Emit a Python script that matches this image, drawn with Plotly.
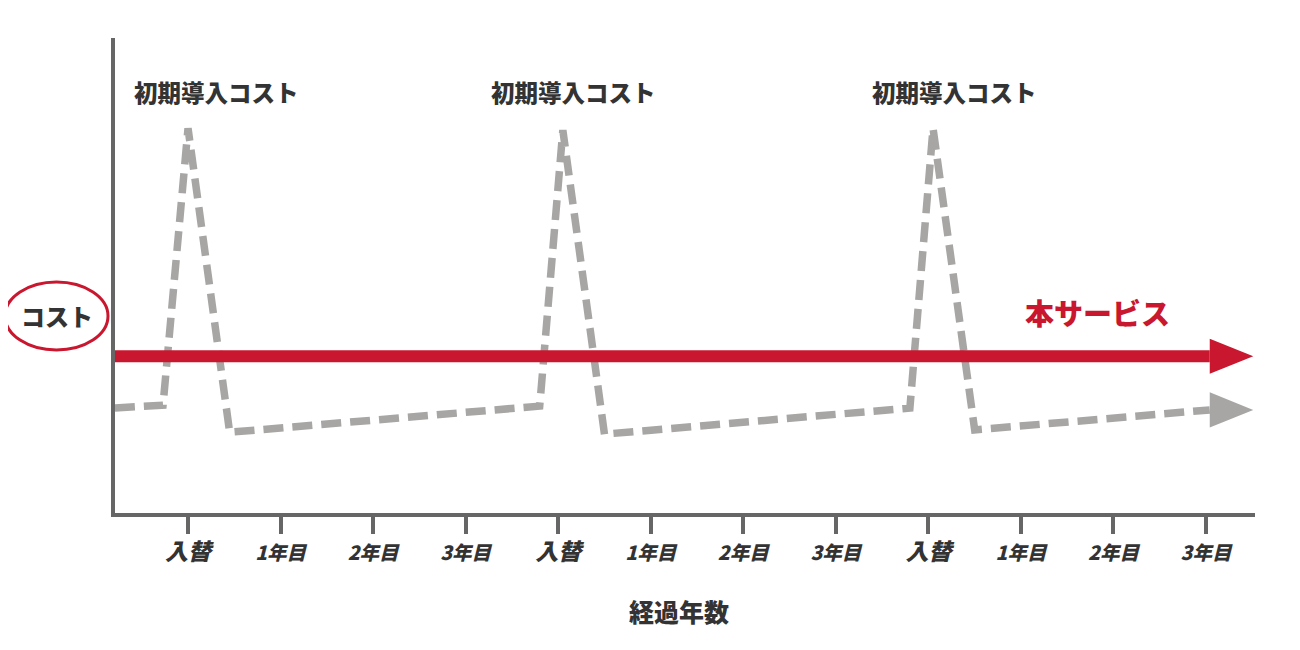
import plotly.graph_objects as go

# ---------------- data ----------------
tick_positions = [0, 1, 2, 3, 4, 5, 6, 7, 8, 9, 10, 11]
tick_labels = ["入替", "1年目", "2年目", "3年目", "入替", "1年目", "2年目", "3年目",
               "入替", "1年目", "2年目", "3年目"]

# conventional system cost (grey dashed)
legacy_x = [-0.79, -0.27, 0.0, 0.45, 3.80, 4.05, 4.50, 7.80, 8.05, 8.50, 11.04]
legacy_y = [22.1, 22.7, 81.0, 17.0, 22.5, 80.6, 16.6, 22.1, 81.0, 17.5, 21.7]

# this service cost (red, flat)
service_x = [-0.79, 11.04]
service_y = [33.0, 33.0]

peak_label_x = [0.31, 4.17, 8.28]
peak_label_y = [88.6, 88.6, 88.6]
peak_label = "初期導入コスト"

service_label = "本サービス"
service_label_x = 9.83
service_label_y = 42.3

x_range = [-0.789, 11.529]
y_range = [0, 100]

# ---------------- styles ----------------
RED = "#c8172e"
GREY = "#a7a6a5"
AXIS = "#666666"
TEXT = "#333333"
FONT = "Noto Sans CJK JP"
OFF = 8  # page body offset

ARROW_LEN = 0.47   # x units
ARROW_HALF = 3.7   # y units

fig = go.Figure()

fig.add_trace(go.Scatter(
    x=legacy_x, y=legacy_y, mode="lines",
    line=dict(color=GREY, width=7.5, dash="20px,9px"),
    hoverinfo="skip", showlegend=False))

gx, gy = legacy_x[-1], legacy_y[-1]
fig.add_trace(go.Scatter(
    x=[gx, gx + ARROW_LEN, gx, gx], y=[gy + ARROW_HALF, gy, gy - ARROW_HALF, gy + ARROW_HALF],
    mode="lines", fill="toself", fillcolor=GREY, line=dict(color=GREY, width=0),
    hoverinfo="skip", showlegend=False))

fig.add_trace(go.Scatter(
    x=service_x, y=service_y, mode="lines",
    line=dict(color=RED, width=12),
    hoverinfo="skip", showlegend=False))

rx, ry = service_x[-1], service_y[-1]
fig.add_trace(go.Scatter(
    x=[rx, rx + ARROW_LEN, rx, rx], y=[ry + ARROW_HALF, ry, ry - ARROW_HALF, ry + ARROW_HALF],
    mode="lines", fill="toself", fillcolor=RED, line=dict(color=RED, width=0),
    hoverinfo="skip", showlegend=False))

annotations = []
for lx, ly in zip(peak_label_x, peak_label_y):
    annotations.append(dict(x=lx, y=ly, xref="x", yref="y", text=peak_label,
                            xanchor="center", yanchor="middle",
                            showarrow=False, font=dict(family=FONT, size=23.5, color=TEXT, weight=900)))

annotations.append(dict(x=service_label_x, y=service_label_y, xref="x", yref="y", text=service_label,
                        xanchor="center", yanchor="middle",
                        showarrow=False, font=dict(family=FONT, size=29, color=RED, weight=900)))

# plot area page px: x 115..1255, y 38..513
def px_to_paper_x(px):
    return (px - 115) / 1140.0

def px_to_paper_y(py):
    return (513 - py) / 475.0

annotations.append(dict(x=px_to_paper_x(57), y=px_to_paper_y(315), xref="paper", yref="paper",
                        text="コスト", showarrow=False, xanchor="center", yanchor="middle",
                        font=dict(family=FONT, size=24, color=TEXT, weight=900)))
annotations.append(dict(x=px_to_paper_x(679), y=px_to_paper_y(611), xref="paper", yref="paper",
                        text="経過年数", showarrow=False, xanchor="center", yanchor="middle",
                        font=dict(family=FONT, size=25, color=TEXT, weight=900)))

shapes = [dict(type="circle", xref="paper", yref="paper",
               x0=px_to_paper_x(5), x1=px_to_paper_x(108),
               y0=px_to_paper_y(350), y1=px_to_paper_y(282),
               line=dict(color=RED, width=3))]

ticktext = []
for t in tick_labels:
    if t == "入替":
        ticktext.append("<span style='font-size:23px'>" + t + "</span>")
    else:
        ticktext.append(t)

fig.update_layout(
    width=1300 - OFF, height=650 - OFF,
    margin=dict(l=115 - OFF, r=45, t=38 - OFF, b=137),
    plot_bgcolor="white", paper_bgcolor="white",
    annotations=annotations, shapes=shapes,
    xaxis=dict(range=x_range, tickvals=tick_positions, ticktext=ticktext,
               showgrid=False, zeroline=False, showline=True, linecolor=AXIS, linewidth=4,
               ticks="outside", ticklen=17, tickwidth=3.5, tickcolor=AXIS,
               ticklabelstandoff=3,
               tickfont=dict(family=FONT, size=19.5, color=TEXT, weight=900, style="italic"),
               fixedrange=True),
    yaxis=dict(range=y_range, showticklabels=False, ticks="", showgrid=False, zeroline=False,
               showline=True, linecolor=AXIS, linewidth=4, fixedrange=True),
)

fig.write_html("out.html")
